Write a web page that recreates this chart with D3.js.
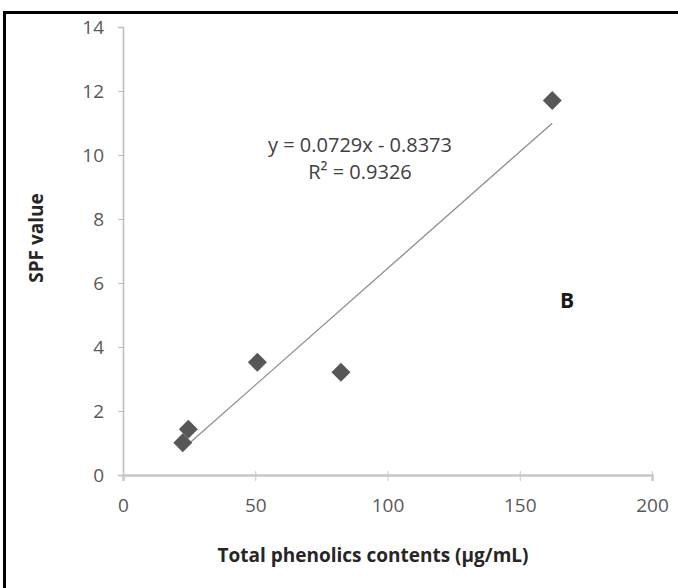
<!DOCTYPE html>
<html>
<head>
<meta charset="utf-8">
<script src="https://cdn.jsdelivr.net/npm/d3@7"></script>
<style>
  body { margin: 0; background: #fff; }
  svg { display: block; }
</style>
</head>
<body>
<div id="chart"></div>
<script>
// data
const phenolics = [22.6, 24.7, 50.8, 82.4, 162.3];
const spf = [1.01, 1.43, 3.52, 3.21, 11.70];
const xTicks = [0, 50, 100, 150, 200];
const yTicks = [0, 2, 4, 6, 8, 10, 12, 14];
const slope = 0.0729, intercept = -0.8373;
const eqLines = ["y = 0.0729x - 0.8373", "R² = 0.9326"];

const width = 678, height = 588;
const margin = { top: 27, right: 26, bottom: 113, left: 123 };

const svg = d3.select("#chart").append("svg")
  .attr("width", width)
  .attr("height", height);

svg.append("rect").attr("width", width).attr("height", height).attr("fill", "#fff");

// frame (top + left only visible)
svg.append("path")
  .attr("d", `M4.5,${height} V12.5 H${width}`)
  .attr("fill", "none")
  .attr("stroke", "#000")
  .attr("stroke-width", 3);

const x = d3.scaleLinear().domain([0, 200]).range([margin.left, width - margin.right]);
const y = d3.scaleLinear().domain([0, 14]).range([height - margin.bottom, margin.top]);

const font = "'Open Sans', sans-serif";

// y axis
const yAxis = svg.append("g")
  .attr("transform", `translate(${x(0)},0)`)
  .call(d3.axisLeft(y).tickValues(yTicks).tickSize(5).tickPadding(14));
yAxis.select(".domain").attr("stroke", "#bdbdbd").attr("stroke-width", 1.5);
yAxis.selectAll(".tick line").attr("stroke", "#bdbdbd");
yAxis.selectAll(".tick text")
  .attr("fill", "#595959")
  .style("font-family", font)
  .style("font-size", "19px");

// x axis
const xAxis = svg.append("g")
  .attr("transform", `translate(0,${y(0)})`)
  .call(d3.axisBottom(x).tickValues(xTicks).tickSize(6).tickPadding(18));
xAxis.select(".domain").attr("stroke", "#c8c8c8").attr("stroke-width", 2.5);
xAxis.selectAll(".tick line").attr("stroke", "#c8c8c8").attr("y1", -4);
xAxis.selectAll(".tick text")
  .attr("fill", "#595959")
  .style("font-family", font)
  .style("font-size", "19px");

// trendline
const xr = d3.extent(phenolics);
svg.append("line")
  .attr("x1", x(xr[0])).attr("y1", y(slope * xr[0] + intercept))
  .attr("x2", x(xr[1])).attr("y2", y(slope * xr[1] + intercept))
  .attr("stroke", "#8c8c8c")
  .attr("stroke-width", 1.3);

// diamonds
const diamond = d3.symbol().type(d3.symbolSquare).size(180);
svg.selectAll(".pt")
  .data(phenolics)
  .join("path")
  .attr("class", "pt")
  .attr("d", diamond)
  .attr("transform", (d, i) => `translate(${x(d)},${y(spf[i])}) rotate(45)`)
  .attr("fill", "#575757");

// equation
svg.append("text")
  .attr("x", 360).attr("y", 152)
  .attr("text-anchor", "middle")
  .attr("fill", "#404040")
  .style("font-family", font)
  .style("font-size", "20px")
  .selectAll("tspan")
  .data(eqLines)
  .join("tspan")
  .attr("x", 360)
  .attr("dy", (d, i) => i ? 27 : 0)
  .text(d => d);

// panel letter
svg.append("text")
  .attr("x", 567).attr("y", 308)
  .attr("text-anchor", "middle")
  .attr("fill", "#1a1a1a")
  .style("font-family", font)
  .style("font-size", "21px")
  .style("font-weight", "bold")
  .text("B");

// axis titles
svg.append("text")
  .attr("x", 373).attr("y", 562)
  .attr("text-anchor", "middle")
  .attr("fill", "#262626")
  .style("font-family", font)
  .style("font-size", "19px")
  .style("font-weight", "bold")
  .text("Total phenolics contents (µg/mL)");

svg.append("text")
  .attr("transform", "translate(43,238) rotate(-90)")
  .attr("text-anchor", "middle")
  .attr("fill", "#262626")
  .style("font-family", font)
  .style("font-size", "19px")
  .style("font-weight", "bold")
  .text("SPF value");
</script>
</body>
</html>
